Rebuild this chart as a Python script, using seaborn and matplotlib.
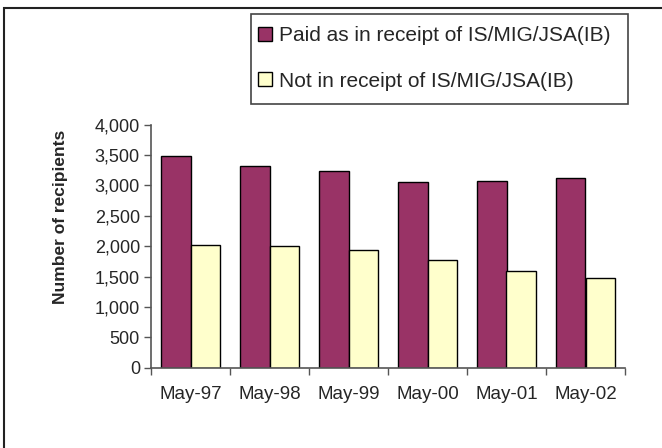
import matplotlib
matplotlib.use("Agg")
import matplotlib.pyplot as plt
import seaborn as sns
import pandas as pd
from matplotlib.patches import Patch, Rectangle
from matplotlib.ticker import FixedLocator, StrMethodFormatter

months = ["May-97", "May-98", "May-99", "May-00", "May-01", "May-02"]
paid = [3490, 3325, 3238, 3057, 3078, 3123]
not_paid = [2020, 1997, 1931, 1773, 1597, 1482]
series = ["Paid as in receipt of IS/MIG/JSA(IB)", "Not in receipt of IS/MIG/JSA(IB)"]
colors = ["#993366", "#FFFFCC"]

df = pd.DataFrame({
    "month": months * 2,
    "value": paid + not_paid,
    "series": [series[0]] * len(months) + [series[1]] * len(months),
})

sns.set_theme(style="white")
plt.rcParams["font.family"] = ["Liberation Sans", "DejaVu Sans"]

W, H = 662, 448
fig = plt.figure(figsize=(W / 100, H / 100), dpi=100)
ax = fig.add_axes([151 / W, 1 - 367.7 / H, 474 / W, 243 / H])

sns.barplot(
    data=df, x="month", y="value", hue="series", order=months,
    hue_order=series, palette=colors, saturation=1, width=0.74, gap=0,
    edgecolor="black", linewidth=1.0, legend=False, ax=ax,
)

ax.set_xlim(-0.5, len(months) - 0.5)
ax.set_ylim(0, 4000)
ax.set_yticks(range(0, 4001, 500))
ax.yaxis.set_major_formatter(StrMethodFormatter("{x:,.0f}"))
ax.xaxis.set_minor_locator(FixedLocator([i - 0.5 for i in range(len(months) + 1)]))
ax.tick_params(axis="x", which="major", length=0, pad=13, labelsize=13.5)
ax.tick_params(axis="x", which="minor", length=5, width=1, color="#555555", direction="out", bottom=True)
ax.tick_params(axis="y", length=5, width=1, color="#555555", direction="out", left=True, labelsize=13, pad=3)
for side in ("top", "right"):
    ax.spines[side].set_visible(False)
for side in ("left", "bottom"):
    ax.spines[side].set_color("#555555")
    ax.spines[side].set_linewidth(1.2)
ax.set_xlabel("")
ax.set_ylabel("Number of recipients", fontsize=12.5, fontweight="bold")
ax.yaxis.set_label_coords(-0.175, 0.62)

handles = [Patch(facecolor=c, edgecolor="black", linewidth=1.0) for c in colors]
fig.legend(
    handles, series, loc="center left", bbox_to_anchor=(258 / W, 1 - 58.5 / H),
    frameon=False, fontsize=15, handlelength=0.65, handleheight=0.65,
    handletextpad=0.35, labelspacing=1.25, borderpad=0, borderaxespad=0,
)
fig.add_artist(Rectangle((251 / W, 1 - 104 / H), 377 / W, 90 / H, transform=fig.transFigure,
                         fill=False, edgecolor="#444444", linewidth=1.2))
fig.add_artist(Rectangle((4 / W, -0.1), 1.2, 1 - 8 / H + 0.1, transform=fig.transFigure,
                         fill=False, edgecolor="#222222", linewidth=1.5))

fig.savefig("out.png", dpi=100)
